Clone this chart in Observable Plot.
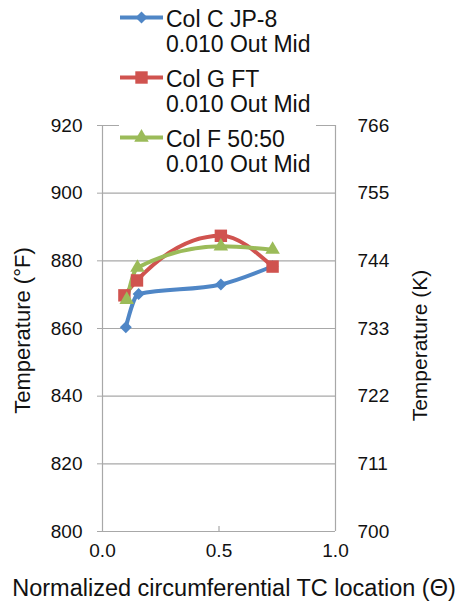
<!DOCTYPE html>
<html>
<head>
<meta charset="utf-8">
<script src="https://cdn.jsdelivr.net/npm/d3@7"></script>
<script src="https://cdn.jsdelivr.net/npm/@observablehq/plot@0.6"></script>
<style>
  html, body { margin: 0; padding: 0; background: #fff; }
  #chart { position: relative; width: 466px; height: 608px; overflow: hidden; }
  #chart svg.legend { position: absolute; left: 0; top: 0; pointer-events: none; }
</style>
</head>
<body>
<div id="chart"></div>
<script>
// ---- data ----
const seriesNames = ["Col C JP-8", "Col G FT", "Col F 50:50"];
const seriesSub = ["0.010 Out Mid", "0.010 Out Mid", "0.010 Out Mid"];
const seriesColors = ["#4f86c6", "#d0534f", "#9bbb59"];
const seriesSymbols = ["diamond2", "square", "triangle"];
const seriesR = [5.4, 7.0, 5.4];

const xColC = [0.100, 0.155, 0.508, 0.730];
const tColC = [860.4, 870.2, 873.0, 878.4];
const xColG = [0.094, 0.148, 0.508, 0.730];
const tColG = [869.8, 874.2, 887.4, 878.3];
const xColF = [0.104, 0.150, 0.508, 0.730];
const tColF = [868.5, 878.0, 884.3, 883.3];

const yTicksF = [800, 820, 840, 860, 880, 900, 920];
const yTicksK = ["700", "711", "722", "733", "744", "755", "766"];
const xTicks = [0, 0.5, 1];

const yTitleLeft = "Temperature (°F)";
const yTitleRight = "Temperature (K)";
const xTitle = "Normalized circumferential TC location (Θ)";

// ---- build table ----
const xs = [xColC, xColG, xColF];
const ts = [tColC, tColG, tColF];
const rows = [];
seriesNames.forEach((name, s) => {
  xs[s].forEach((x, i) => rows.push({series: name, s, x, t: ts[s][i]}));
});

const grid = "#a8a8a8";
const font = "'Liberation Sans', Arial, sans-serif";

const marks = [
  Plot.ruleY(yTicksF.filter(d => d > 800), {stroke: grid, strokeWidth: 1.2}),
  Plot.ruleY([800], {stroke: grid, strokeWidth: 1.2}),
  Plot.ruleX([0, 1], {stroke: grid, strokeWidth: 1.2}),
  Plot.ruleX([0.5], {y1: 800, y2: 801.5, stroke: grid, strokeWidth: 1.2}),
  Plot.axisY({ticks: yTicksF, tickSize: 5, tickPadding: 15, label: null, stroke: grid, fill: "#111", fontSize: 19}),
  Plot.axisY({anchor: "right", ticks: yTicksF, tickSize: 0, tickPadding: 22, label: null,
    tickFormat: (d) => yTicksK[yTicksF.indexOf(d)], fill: "#111", fontSize: 19}),
  Plot.axisX({ticks: xTicks, tickSize: 0, tickPadding: 12, label: null, tickFormat: d3.format(".1f"), fill: "#111", fontSize: 19})
];
seriesNames.forEach((name, s) => {
  const d = rows.filter(r => r.s === s);
  marks.push(Plot.line(d, {x: "x", y: "t", stroke: seriesColors[s], strokeWidth: 4, curve: "monotone-x"}));
});
seriesNames.forEach((name, s) => {
  const d = rows.filter(r => r.s === s);
  marks.push(Plot.dot(d, {x: "x", y: "t", fill: seriesColors[s], stroke: "none", symbol: seriesSymbols[s], r: seriesR[s]}));
});
marks.push(
  Plot.text([yTitleLeft], {frameAnchor: "left", textAnchor: "middle", lineAnchor: "middle", dx: -80, dy: 2, rotate: -90, fontSize: 22, fill: "#111"}),
  Plot.text([yTitleRight], {frameAnchor: "right", textAnchor: "middle", lineAnchor: "middle", dx: 85, dy: 17, rotate: -90, fontSize: 21, fill: "#111"}),
  Plot.text([xTitle], {frameAnchor: "bottom", dx: 15, dy: 64, fontSize: 23.5, fill: "#111"})
);

const plot = Plot.plot({
  width: 466,
  height: 608,
  marginTop: 125,
  marginBottom: 77,
  marginLeft: 102,
  marginRight: 131,
  style: {fontFamily: font, fontSize: "19px", background: "#fff", color: "#111"},
  x: {domain: [0, 1]},
  y: {domain: [800, 920]},
  marks
});

const chart = document.getElementById("chart");
chart.appendChild(plot);

// ---- legend overlay ----
const leg = d3.select(chart).append("svg")
  .attr("class", "legend")
  .attr("width", 466).attr("height", 190);
leg.append("rect").attr("x", 119).attr("y", 0).attr("width", 197).attr("height", 182).attr("fill", "#fff");
const symMap = {diamond2: d3.symbolDiamond2, square: d3.symbolSquare, triangle: d3.symbolTriangle};
seriesNames.forEach((name, s) => {
  const base = 27 + 60 * s;
  const ly = base - 9.5;
  const g = leg.append("g");
  g.append("line").attr("x1", 120).attr("x2", 163).attr("y1", ly).attr("y2", ly)
    .attr("stroke", seriesColors[s]).attr("stroke-width", 4);
  g.append("path").attr("transform", `translate(141.5,${ly})`)
    .attr("d", d3.symbol(symMap[seriesSymbols[s]], Math.PI * seriesR[s] * seriesR[s])())
    .attr("fill", seriesColors[s]);
  const t = g.append("text").attr("x", 166).attr("y", base)
    .attr("font-family", font).attr("font-size", 23).attr("fill", "#111");
  t.append("tspan").attr("x", 166).attr("y", base).text(name);
  t.append("tspan").attr("x", 166).attr("y", base + 24.5).text(seriesSub[s]);
});
</script>
</body>
</html>
